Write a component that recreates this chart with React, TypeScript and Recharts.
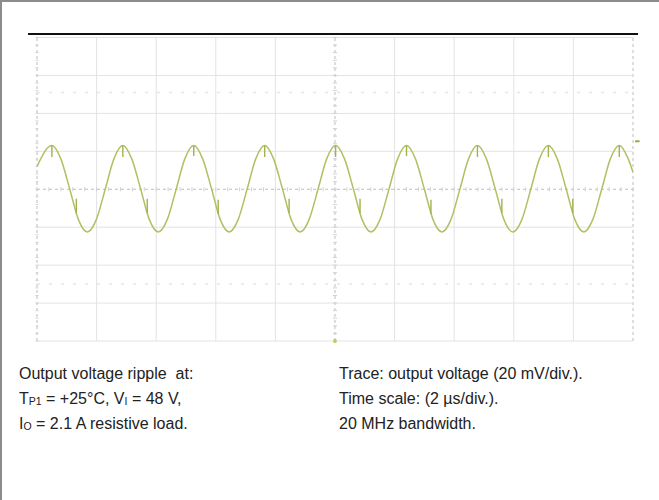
import React from 'react';
import { LineChart, Line, XAxis, YAxis, ReferenceLine } from 'recharts';

// Time (µs) and voltage (mV) samples
const waveT = [
  0.0, 0.5, 0.8, 1.1, 1.39, 1.69, 1.99, 2.29, 2.58,
  2.88, 3.18, 3.48, 3.77, 4.07, 4.37, 4.67, 4.96,
  5.26, 5.56, 5.86, 6.15, 6.45, 6.75, 7.05, 7.34,
  7.64, 7.94, 8.24, 8.53, 8.83, 9.13, 9.43, 9.72,
  10.02, 10.32, 10.62, 10.91, 11.21, 11.51, 11.81, 12.1,
  12.4, 12.7, 13.0, 13.29, 13.59, 13.89, 14.19, 14.48,
  14.78, 15.08, 15.38, 15.67, 15.97, 16.27, 16.57, 16.86,
  17.16, 17.46, 17.76, 18.05, 18.35, 18.65, 18.95, 19.24,
  19.54, 19.84, 20.0,
];
const waveV = [
  12, 23, 16, 0, -16, -22.5, -16, 0, 16,
  23, 16, 0, -16, -22.5, -16, 0, 16,
  23, 16, 0, -16, -22.5, -16, 0, 16,
  23, 16, 0, -16, -22.5, -16, 0, 16,
  23, 16, 0, -16, -22.5, -16, 0, 16,
  23, 16, 0, -16, -22.5, -16, 0, 16,
  23, 16, 0, -16, -22.5, -16, 0, 16,
  23, 16, 0, -16, -22.5, -16, 0, 16,
  23, 16, 9,
];

// Switching spikes at the crests and on the falling edges
const crestSpikeT = [0.5, 2.88, 5.26, 7.64, 10.02, 12.4, 14.78, 17.16, 19.54];
const crestSpikeTop = [23, 23, 23, 23, 23, 23, 23, 23, 23];
const crestSpikeBottom = [17, 17, 17.5, 17, 17, 17.5, 17, 17, 17];
const edgeSpikeT = [1.32, 3.7, 6.08, 8.46, 10.84, 13.22, 15.6, 17.98];
const edgeSpikeTop = [-5, -5, -5.5, -5, -5, -5.5, -5, -5];
const edgeSpikeBottom = [-12.5, -12.5, -13, -12.5, -12.5, -13, -12.5, -12.5];

// Graticule: 10 horizontal divisions of 2 µs, 8 vertical divisions of 20 mV
const xGrid = [0, 2, 4, 6, 8, 10, 12, 14, 16, 18, 20];
const yGrid = [-80, -60, -40, -20, 0, 20, 40, 60, 80];
const dottedRows = [51, -50];
const xMinorTicks = Array.from({ length: 51 }, (_, i) => i * 0.4);
const yMinorTicks = Array.from({ length: 41 }, (_, i) => -80 + i * 4);

const waveData = waveT.map((t, i) => ({ t, v: waveV[i] }));
const spikeData: { t: number; v: number | null }[] = [];
crestSpikeT.forEach((t, i) => {
  spikeData.push({ t, v: crestSpikeTop[i] }, { t, v: crestSpikeBottom[i] }, { t: t + 0.01, v: null });
});
edgeSpikeT.forEach((t, i) => {
  spikeData.push({ t, v: edgeSpikeTop[i] }, { t, v: edgeSpikeBottom[i] }, { t: t + 0.01, v: null });
});
spikeData.sort((a, b) => a.t - b.t);

const TRACE = '#b3bf62';
const GRID = '#e3e3e3';
const AXIS = '#bdbdbd';
const TICK = '#d2d2d2';

const textStyle: React.CSSProperties = {
  position: 'absolute',
  fontFamily: '"Liberation Sans", Arial, Helvetica, sans-serif',
  fontSize: 16,
  lineHeight: '25px',
  color: '#222',
  whiteSpace: 'pre',
};
const sub: React.CSSProperties = { fontSize: 10.5, position: 'relative', top: 1, lineHeight: 0 };

export default function App() {
  return (
    <div style={{ position: 'absolute', left: 0, top: 0, width: 659, height: 500, background: '#fff', overflow: 'hidden' }}>
      <div style={{ position: 'absolute', left: 0, top: 0, width: 659, height: 2, background: '#8c8c8c' }} />
      <div style={{ position: 'absolute', left: 0, top: 0, width: 2, height: 500, background: '#8c8c8c' }} />
      <div style={{ position: 'absolute', left: 0, top: 0 }}>
        <LineChart width={659} height={500} margin={{ top: 37.5, right: 26, bottom: 159, left: 37 }}>
          <XAxis type="number" dataKey="t" domain={[0, 20]} hide allowDataOverflow />
          <YAxis type="number" domain={[-80, 80]} hide allowDataOverflow />
          {xGrid.map((x) => (
            <ReferenceLine
              key={'gx' + x}
              x={x}
              stroke={x === 0 || x === 20 || x === 10 ? AXIS : GRID}
              strokeDasharray={x === 0 || x === 20 || x === 10 ? '3 3' : undefined}
              strokeWidth={1}
            />
          ))}
          {yGrid.map((y) => (
            <ReferenceLine
              key={'gy' + y}
              y={y}
              stroke={y === 0 ? AXIS : GRID}
              strokeDasharray={y === 0 ? '3 3' : undefined}
              strokeWidth={1}
            />
          ))}
          {dottedRows.map((y) => (
            <ReferenceLine key={'dr' + y} y={y} stroke="#e6e6e6" strokeDasharray="3 9" strokeWidth={1.5} />
          ))}
          {xMinorTicks.map((t) => (
            <ReferenceLine key={'mx' + t} segment={[{ x: t, y: -1.1 }, { x: t, y: 1.1 }]} stroke={TICK} strokeWidth={1} />
          ))}
          {yMinorTicks.map((v) => (
            <ReferenceLine key={'my' + v} segment={[{ x: 9.93, y: v }, { x: 10.07, y: v }]} stroke={TICK} strokeWidth={1} />
          ))}
          {yMinorTicks.map((v) => (
            <ReferenceLine key={'ly' + v} segment={[{ x: -0.05, y: v }, { x: 0.05, y: v }]} stroke={TICK} strokeWidth={1} ifOverflow="visible" />
          ))}
          <ReferenceLine segment={[{ x: -0.3, y: 81.9 }, { x: 20.17, y: 81.9 }]} stroke="#111" strokeWidth={2} ifOverflow="visible" />
          <ReferenceLine segment={[{ x: 20.07, y: 25.3 }, { x: 20.22, y: 25.3 }]} stroke="#9aa84a" strokeWidth={2} ifOverflow="visible" />
          <ReferenceLine segment={[{ x: 10, y: -79 }, { x: 10, y: -81 }]} stroke="#c2cc55" strokeWidth={3} ifOverflow="visible" />
          <Line
            data={waveData}
            dataKey="v"
            type="monotone"
            stroke={TRACE}
            strokeWidth={1.5}
            dot={false}
            isAnimationActive={false}
          />
          <Line
            data={spikeData}
            dataKey="v"
            type="linear"
            stroke="#a3b150"
            strokeWidth={1.4}
            dot={false}
            connectNulls={false}
            isAnimationActive={false}
          />
        </LineChart>
      </div>
      <div style={{ ...textStyle, left: 19, top: 360.5 }}>
        <div>Output voltage ripple  at:</div>
        <div>
          T<span style={sub}>P1</span> = +25°C, V<span style={sub}>I</span> = 48 V,
        </div>
        <div>
          I<span style={sub}>O</span> = 2.1 A resistive load.
        </div>
      </div>
      <div style={{ ...textStyle, left: 339, top: 360.5 }}>
        <div>Trace: output voltage (20 mV/div.).</div>
        <div>Time scale: (2 µs/div.).</div>
        <div>20 MHz bandwidth.</div>
      </div>
    </div>
  );
}
